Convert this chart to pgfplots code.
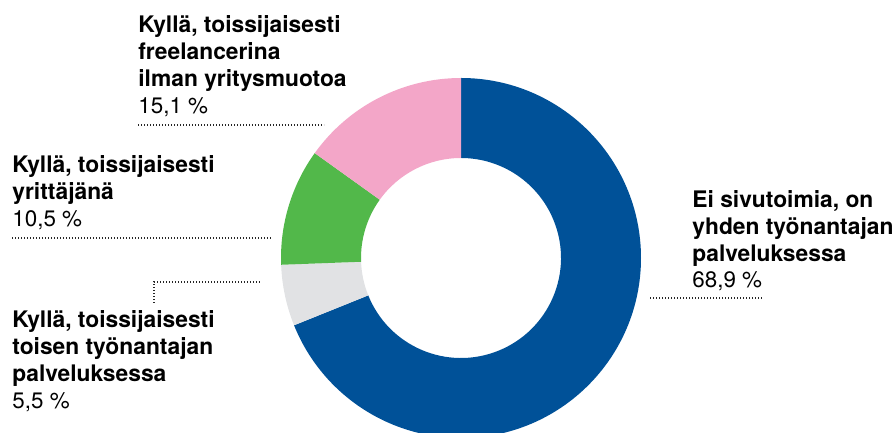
\documentclass[border=0pt]{standalone}
\usepackage{pgfplots}
\usepackage{pgfplotstable}
\pgfplotsset{compat=1.18}
\usepackage{fontspec}
\setmainfont{TeX Gyre Heros}

\definecolor{sliceblue}{RGB}{0,81,152}
\definecolor{slicegray}{RGB}{225,226,228}
\definecolor{slicegreen}{RGB}{82,184,74}
\definecolor{slicepink}{RGB}{243,166,200}

% osuudet (%), myötäpäivään ylhäältä alkaen
\pgfplotstableread{
share
68.9
5.5
10.5
15.1
}\piedata

\pgfplotstablegetelem{0}{share}\of\piedata \let\sA\pgfplotsretval
\pgfplotstablegetelem{1}{share}\of\piedata \let\sB\pgfplotsretval
\pgfplotstablegetelem{2}{share}\of\piedata \let\sC\pgfplotsretval
\pgfplotstablegetelem{3}{share}\of\piedata \let\sD\pgfplotsretval
\pgfmathsetmacro\aA{90}
\pgfmathsetmacro\aB{\aA-3.6*\sA}
\pgfmathsetmacro\aC{\aB-3.6*\sB}
\pgfmathsetmacro\aD{\aC-3.6*\sC}
\pgfmathsetmacro\aE{\aD-3.6*\sD}

% 1 px = 0.5pt
\def\Rout{90pt}
\def\Rin{50pt}
\def\Rw{40pt}

\tikzset{
  leader/.style={line width=0.6pt, dash pattern=on 0.6pt off 0.9pt, black!85},
  lab/.style={anchor=base west, inner sep=0pt, font=\fontsize{11.4}{13.35}\selectfont\bfseries},
  val/.style={anchor=base west, inner sep=0pt, font=\fontsize{11.2}{13.35}\selectfont},
}

\newcommand{\ring}[3]{%
  \fill[#1] (axis cs:461,175) ++(#2:\Rout) arc[start angle=#2, end angle=#3, radius=\Rout]
    -- ++(#3+180:\Rw) arc[start angle=#3, end angle=#2, radius=\Rin] -- cycle;}

\begin{document}
\begin{tikzpicture}
\begin{axis}[
  x=0.5pt, y=0.5pt,
  xmin=0, xmax=896, ymin=0, ymax=433,
  hide axis,
  anchor=south west, at={(0,0)},
  clip=true,
]
\ring{sliceblue}{\aA}{\aB}
\ring{slicegray}{\aB}{\aC}
\ring{slicegreen}{\aC}{\aD}
\ring{slicepink}{\aD}{\aE}

% freelancer
\node[lab] at (axis cs:138,400) {Kyllä, toissijaisesti};
\node[lab] at (axis cs:138,373.3) {freelancerina};
\node[lab] at (axis cs:138,346.6) {ilman yritysmuotoa};
\node[val] at (axis cs:138,319.9) {15,1 \%};
\draw[leader] (axis cs:138,308) -- (axis cs:324,308);

% yrittäjä
\node[lab] at (axis cs:12,260) {Kyllä, toissijaisesti};
\node[lab] at (axis cs:12,233.3) {yrittäjänä};
\node[val] at (axis cs:12,206.6) {10,5 \%};
\draw[leader] (axis cs:12,195) -- (axis cs:272,195);

% toisen työnantajan
\draw[leader] (axis cs:154,130) -- (axis cs:154,151) -- (axis cs:260,151);
\node[lab] at (axis cs:12,105) {Kyllä, toissijaisesti};
\node[lab] at (axis cs:12,78.3) {toisen työnantajan};
\node[lab] at (axis cs:12,51.6) {palveluksessa};
\node[val] at (axis cs:12,24.9) {5,5 \%};

% ei sivutoimia
\node[lab] at (axis cs:692,225.3) {Ei sivutoimia, on};
\node[lab] at (axis cs:692,198.6) {yhden työnantajan};
\node[lab] at (axis cs:692,171.9) {palveluksessa};
\node[val] at (axis cs:692,145.2) {68,9 \%};
\draw[leader] (axis cs:650,135) -- (axis cs:762,135);
\end{axis}
\pgfresetboundingbox
\path (0,0) rectangle (448pt,216.5pt);
\end{tikzpicture}
\end{document}
